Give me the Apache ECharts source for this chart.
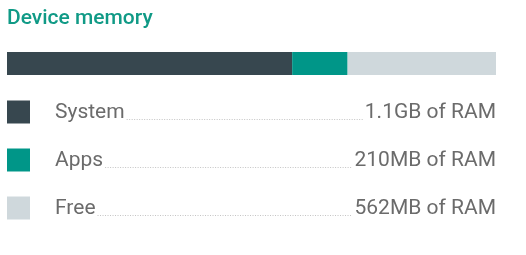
<!DOCTYPE html>
<html><head><meta charset="utf-8">
<script src="https://cdn.jsdelivr.net/npm/echarts@6/dist/echarts.min.js"></script>
<style>html,body{margin:0;padding:0;background:#fff}#c{width:526px;height:255px}</style>
</head><body><div id="c"></div>
<script>
const titleText = 'Device memory';
const categories = ['System', 'Apps', 'Free'];
const valuesMB = [1080, 210, 562];
const valueLabels = ['1.1GB of RAM', '210MB of RAM', '562MB of RAM'];
const colors = ['#37474f', '#009688', '#cfd8dc'];

const total = valuesMB.reduce((a, b) => a + b, 0);
const chart = echarts.init(document.getElementById('c'), null, {renderer: 'canvas'});
const ctx = document.createElement('canvas').getContext('2d');
function tw(t, f) { ctx.font = f; return ctx.measureText(t).width; }
const rowFont = '21px Roboto';

const barSeries = categories.map((c, i) => ({
  name: c, type: 'bar', stack: 'mem', xAxisIndex: 0, yAxisIndex: 0,
  barWidth: '100%', itemStyle: {color: colors[i]},
  data: [valuesMB[i]], silent: true
}));

const rowSeries = {
  type: 'custom', xAxisIndex: 1, yAxisIndex: 1, silent: true,
  data: categories.map((c, i) => [0, i]),
  renderItem: function (params, api) {
    const i = api.value(1);
    const p = api.coord([0, i]);
    const left = p[0], cy = p[1];
    const right = left + 489;
    const nameW = tw(categories[i], rowFont);
    const valW = tw(valueLabels[i], rowFont);
    const nameX = left + 48;
    return {
      type: 'group',
      children: [
        {type: 'rect', shape: {x: left, y: cy - 11.5, width: 23, height: 23}, style: {fill: colors[i]}},
        {type: 'text', style: {x: nameX, y: cy + 1, text: categories[i], font: rowFont, fill: '#6b6b6b', textAlign: 'left', textVerticalAlign: 'middle'}},
        {type: 'line', shape: {x1: nameX + nameW + 2, y1: cy + 7.5, x2: right - valW - 2, y2: cy + 7.5}, style: {stroke: '#c4c4c4', lineWidth: 1, lineDash: [1, 1.5]}},
        {type: 'text', style: {x: right, y: cy + 1, text: valueLabels[i], font: rowFont, fill: '#6b6b6b', textAlign: 'right', textVerticalAlign: 'middle'}}
      ]
    };
  }
};

chart.setOption({
  animation: false,
  title: {text: titleText, left: 7, top: 8, padding: 0,
    textStyle: {fontFamily: 'Roboto', fontSize: 21, fontWeight: 500, color: '#109a86'}},
  grid: [
    {left: 7, right: 30, top: 52, height: 23},
    {left: 7, right: 30, top: 88, height: 144}
  ],
  xAxis: [
    {type: 'value', gridIndex: 0, min: 0, max: total, show: false},
    {type: 'value', gridIndex: 1, min: 0, max: 1, show: false}
  ],
  yAxis: [
    {type: 'category', gridIndex: 0, data: ['mem'], show: false},
    {type: 'category', gridIndex: 1, data: categories, inverse: true, show: false}
  ],
  series: barSeries.concat([rowSeries])
});
</script></body></html>
